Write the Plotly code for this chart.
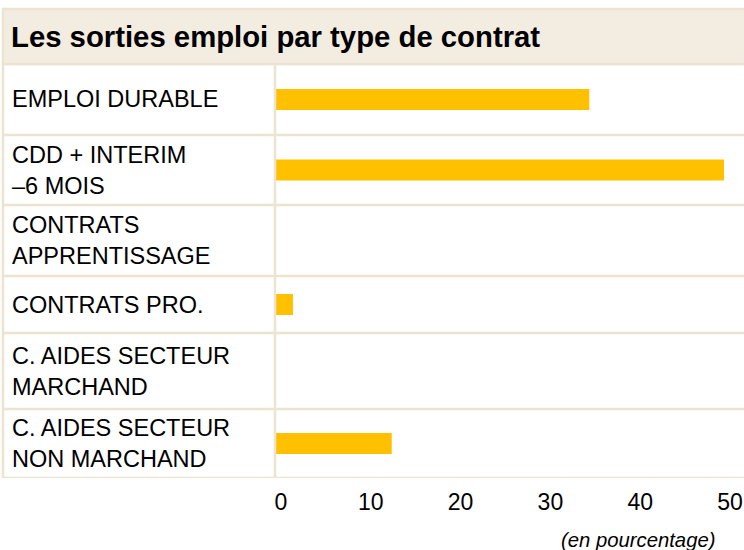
import plotly.graph_objects as go

# ---- data ----
categories = [
    "EMPLOI DURABLE",
    "CDD + INTERIM<br>–6 MOIS",
    "CONTRATS<br>APPRENTISSAGE",
    "CONTRATS PRO.",
    "C. AIDES SECTEUR<br>MARCHAND",
    "C. AIDES SECTEUR<br>NON MARCHAND",
]
values = [35, 50, 0, 2, 0, 13]
tick_values = [0, 10, 20, 30, 40, 50]
tick_labels = ["0", "10", "20", "30", "40", "50"]
title_text = "Les sorties emploi par type de contrat"
unit_text = "(en pourcentage)"

# ---- layout constants (pixels) ----
W, H = 744, 550
PLOT_LEFT, PLOT_TOP, PLOT_BOTTOM = 275, 64, 478
ROW_HEIGHTS = [71, 70, 71, 57, 76, 69]  # table row heights in px (layout)
BAR_THICK = 21
BAR_COLOR = "#FFC000"
LINE_COLOR = "#EDE3D1"
BAND_COLOR = "#F2ECE1"
FONT = "Liberation Sans, Arial, sans-serif"

def px(x):
    return x / W

def py(y):
    return 1 - y / H

n = len(categories)
# row boundaries / centres in "pixel rows" space of the y axis
bounds = [0]
for h in ROW_HEIGHTS:
    bounds.append(bounds[-1] + h)
centers = [(bounds[i] + bounds[i + 1]) / 2 for i in range(n)]
total = bounds[-1]

scale = (724 - PLOT_LEFT) / 50.0  # px per unit
xmax = (W - PLOT_LEFT) / scale

fig = go.Figure()
fig.add_trace(go.Bar(
    x=values, y=centers, orientation="h",
    marker=dict(color=BAR_COLOR, line=dict(width=0)),
    width=BAR_THICK, hoverinfo="skip",
))

shapes = []
# title band
shapes.append(dict(type="rect", xref="paper", yref="paper",
                   x0=px(3), x1=px(W + 5), y0=py(64), y1=py(9),
                   fillcolor=BAND_COLOR, line=dict(color=LINE_COLOR, width=2.5), layer="below"))
# row separators
for b in bounds:
    shapes.append(dict(type="line", xref="paper", yref="y",
                       x0=px(3), x1=1, y0=b, y1=b,
                       line=dict(color=LINE_COLOR, width=2.5)))
# left border
shapes.append(dict(type="line", xref="paper", yref="y",
                   x0=px(3), x1=px(3), y0=0, y1=total,
                   line=dict(color=LINE_COLOR, width=2.5)))
# vertical divider
shapes.append(dict(type="line", xref="paper", yref="y",
                   x0=px(PLOT_LEFT), x1=px(PLOT_LEFT), y0=0, y1=total,
                   line=dict(color=LINE_COLOR, width=2.5)))

annotations = []
annotations.append(dict(text="<b>" + title_text + "</b>", xref="paper", yref="paper",
                        x=px(9), y=py(37), xanchor="left", yanchor="middle",
                        showarrow=False, font=dict(family=FONT, size=29.3, color="#000000")))
for c, yc in zip(categories, centers):
    annotations.append(dict(text=c, xref="paper", yref="y", x=px(10), y=yc,
                            xanchor="left", yanchor="middle", align="left",
                            showarrow=False, font=dict(family=FONT, size=23.5, color="#000000")))
annotations.append(dict(text="<i>" + unit_text + "</i>", xref="paper", yref="paper",
                        x=px(717), y=py(540), xanchor="right", yanchor="middle",
                        showarrow=False, font=dict(family=FONT, size=20.3, color="#000000")))

fig.update_layout(
    width=W, height=H,
    margin=dict(l=0, r=0, t=0, b=0),
    paper_bgcolor="white", plot_bgcolor="white",
    showlegend=False,
    shapes=shapes, annotations=annotations,
    xaxis=dict(domain=[px(PLOT_LEFT), 1], range=[0, xmax],
               tickvals=tick_values, ticktext=tick_labels,
               showgrid=False, zeroline=False, showline=False,
               ticks="outside", ticklen=3, tickcolor="rgba(0,0,0,0)",
               ticklabelshift=6,
               tickfont=dict(family=FONT, size=23, color="#000000"),
               fixedrange=True),
    yaxis=dict(domain=[py(PLOT_BOTTOM), py(PLOT_TOP)], range=[total, 0],
               showticklabels=False, showgrid=False, zeroline=False, showline=False,
               fixedrange=True),
)

fig.write_html("out.html", config={"displayModeBar": False},
               post_script="document.body.style.margin='0';document.body.style.padding='0';")
